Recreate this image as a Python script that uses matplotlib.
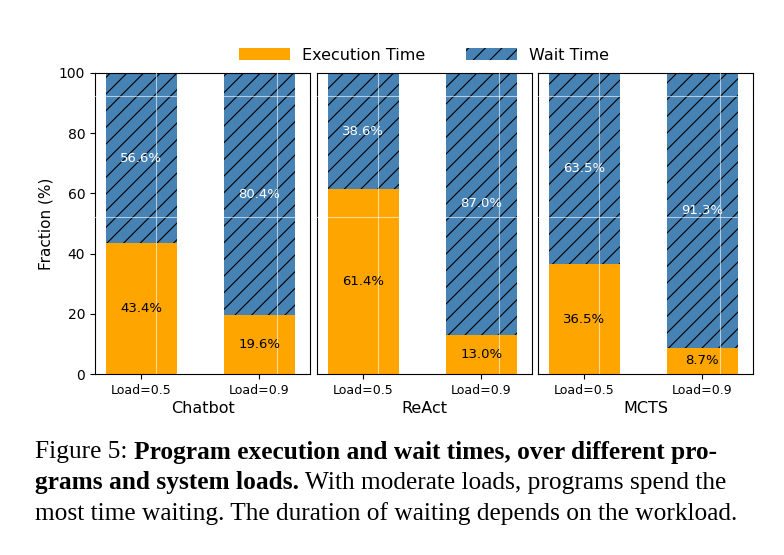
import matplotlib
matplotlib.use("Agg")
import matplotlib.pyplot as plt
from matplotlib.patches import Patch

groups = ["Chatbot", "ReAct", "MCTS"]
loads = ["Load=0.5", "Load=0.9"]
exec_time = [[43.4, 19.6], [61.4, 13.0], [36.5, 8.7]]
wait_time = [[56.6, 80.4], [38.6, 87.0], [63.5, 91.3]]

ORANGE = "#FFA500"
BLUE = "#4682B4"
plt.rcParams['hatch.linewidth'] = 0.8

fig = plt.figure(figsize=(7.84, 5.55), dpi=100)
W, H = 784, 555
lefts = [95, 317, 538]
for i, g in enumerate(groups):
    ax = fig.add_axes([lefts[i] / W, 1 - 374 / H, 215 / W, 301 / H])
    x = [0, 1]
    ax.bar(x, exec_time[i], width=0.6, color=ORANGE, zorder=2)
    ax.bar(x, wait_time[i], width=0.6, bottom=exec_time[i], color=BLUE,
           hatch="//", edgecolor="black", linewidth=0, zorder=2)
    for j in x:
        e, w = exec_time[i][j], wait_time[i][j]
        ax.text(j, e / 2, f"{e}%", ha="center", va="center", fontsize=9.5, color="black", zorder=4)
        ax.text(j, e + w / 2, f"{w}%", ha="center", va="center", fontsize=9.5, color="white", zorder=4)
    for yv in (92.5, 52.3):
        ax.axhline(yv, color="white", lw=0.8, alpha=0.6, zorder=3)
    for xv in (0.13, 1.15):
        ax.axvline(xv, color="white", lw=0.8, alpha=0.6, zorder=3)
    ax.set_xlim(-0.39, 1.43)
    ax.set_ylim(0, 100)
    ax.set_xticks(x)
    ax.set_xticklabels(loads, fontsize=9)
    ax.set_xlabel(g, fontsize=11.5, labelpad=3)
    if i == 0:
        ax.set_ylabel("Fraction (%)", fontsize=11)
        ax.set_yticks([0, 20, 40, 60, 80, 100])
        ax.tick_params(axis="y", labelsize=10)
    else:
        ax.set_yticks([])

fig.legend(handles=[Patch(facecolor=ORANGE, label="Execution Time"),
                    Patch(facecolor=BLUE, hatch="//", edgecolor="black", linewidth=0, label="Wait Time")],
           loc="center", bbox_to_anchor=(424 / W, 1 - 55 / H), ncol=2, frameon=False,
           fontsize=11.5, columnspacing=2.5, handlelength=3.2)

# caption (justified lines 1-2)
fig.canvas.draw()
r = fig.canvas.get_renderer()
fs = 18.3
fam = "Liberation Serif"
lines = [
    [("Figure 5: ", "normal"), ("Program execution and wait times, over different pro-", "bold")],
    [("grams and system loads.", "bold"), (" With moderate loads, programs spend the", "normal")],
    [("most time waiting. The duration of waiting depends on the workload.", "normal")],
]
ys = [452, 483, 514]
for line, yp in zip(lines, ys):
    xp = 35
    for txt, wt in line:
        t = fig.text(xp / W, 1 - yp / H, txt, fontsize=fs, family=fam, weight=wt,
                     ha="left", va="center")
        xp += t.get_window_extent(r).width

fig.savefig("out.png", dpi=100)
